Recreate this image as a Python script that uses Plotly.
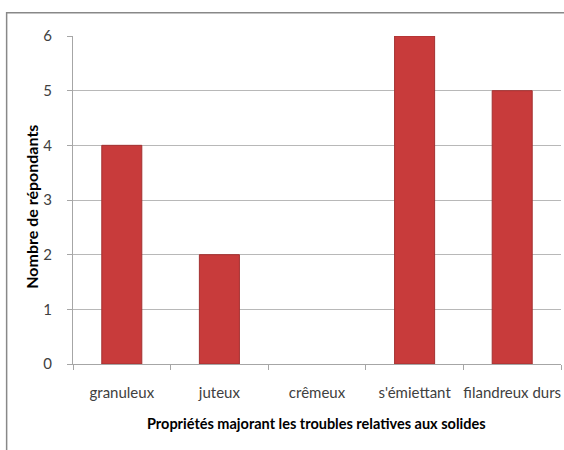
import plotly.graph_objects as go

categories = ["granuleux", "juteux", "crêmeux", "s'émiettant", "filandreux durs"]
values = [4, 2, 0, 6, 5]
y_ticks = [0, 1, 2, 3, 4, 5, 6]

FONT = "Lato, Liberation Sans, sans-serif"

fig = go.Figure()
fig.add_trace(go.Bar(
    x=categories,
    y=values,
    width=0.41,
    marker=dict(
        color="#c83b3b",
        line=dict(color="#a33131", width=[1 if v > 0 else 0 for v in values]),
    ),
    showlegend=False,
))

fig.update_layout(
    width=564,
    height=450,
    margin=dict(l=73, r=3, t=36, b=86, autoexpand=False),
    paper_bgcolor="white",
    plot_bgcolor="white",
    font=dict(family=FONT, size=14, color="#404040"),
    xaxis=dict(
        type="category",
        automargin=False,
        showline=True,
        linecolor="#a6a6a6",
        linewidth=1,
        ticks="outside",
        tickson="boundaries",
        ticklen=5,
        tickcolor="#a6a6a6",
        tickangle=0,
        ticklabelstandoff=15,
        tickfont=dict(family=FONT, size=15, color="#404040"),
        showgrid=False,
    ),
    yaxis=dict(
        range=[0, 6],
        automargin=False,
        tickvals=y_ticks,
        showline=True,
        linecolor="#a6a6a6",
        linewidth=1,
        ticks="outside",
        ticklen=5,
        tickcolor="#a6a6a6",
        ticklabelstandoff=12,
        showgrid=True,
        gridcolor="#b8b8b8",
        gridwidth=1,
        zeroline=False,
        tickfont=dict(family=FONT, size=15, color="#404040"),
    ),
    annotations=[
        dict(
            text="<b>Propriétés majorant les troubles relatives aux solides</b>",
            xref="paper", yref="paper", x=0.499, y=-0.18,
            showarrow=False, xanchor="center", yanchor="middle",
            font=dict(family=FONT, size=14.5, color="black"),
        ),
        dict(
            text="<b>Nombre de répondants</b>",
            xref="paper", yref="paper", x=-0.085, y=0.478,
            showarrow=False, xanchor="center", yanchor="middle",
            textangle=-90,
            font=dict(family=FONT, size=16, color="black"),
        ),
    ],
    shapes=[
        dict(
            type="rect", xref="paper", yref="paper",
            x0=-0.136, y0=-0.5, x1=1.2, y1=1.071,
            line=dict(color="#888888", width=1.5),
            fillcolor="rgba(0,0,0,0)",
            layer="below",
        )
    ],
)

fig.write_html(
    "out.html",
    config={"displayModeBar": False},
    post_script="document.body.style.margin='0';document.body.style.overflow='hidden';",
)
